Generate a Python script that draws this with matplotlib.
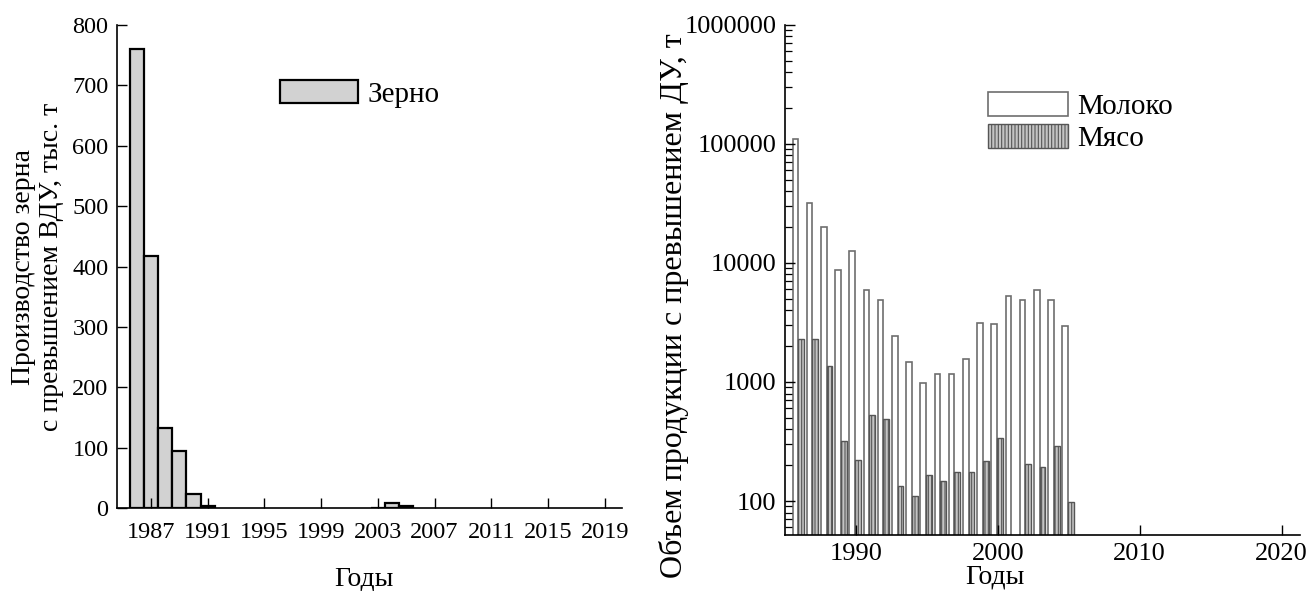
import matplotlib
matplotlib.use("Agg")
import matplotlib.pyplot as plt
import numpy as np
from matplotlib.ticker import FixedLocator, LogLocator, NullFormatter

plt.rcParams['font.family'] = ['Liberation Serif', 'DejaVu Serif']
plt.rcParams['hatch.linewidth'] = 0.8

# Grain: production above the permissible level, thousand tonnes
grain_years = [1986, 1987, 1988, 1989, 1990, 1991, 2003, 2004, 2005]
grain_values = [760, 418, 133, 94, 24, 4, 1, 9, 4]
grain_xticks = [1987, 1991, 1995, 1999, 2003, 2007, 2011, 2015, 2019]

# Milk and meat above the permissible level, tonnes
prod_years = list(range(1986, 2006))
milk_values = [110000, 32000, 20000, 8800, 12500, 5900, 4900, 2450, 1480, 980,
               1170, 1170, 1570, 3150, 3050, 5300, 4900, 5900, 4900, 2950]
meat_values = [2300, 2300, 1350, 320, 220, 530, 490, 135, 110, 165,
               148, 175, 175, 218, 340, 0, 205, 195, 290, 98]
prod_xticks = [1990, 2000, 2010, 2020]
prod_yticks = [100, 1000, 10000, 100000, 1000000]

fig = plt.figure(figsize=(13.08, 5.91), dpi=100)

TICK_L = 17.5
TICK_R = 19
LABEL = 20
LEG = 21

# ---- left panel: grain ----
ax1 = fig.add_axes([0.0894, 0.140, 0.386, 0.818])
ax1.bar(grain_years, grain_values, width=1.0, color='#d2d2d2',
        edgecolor='black', linewidth=1.6, label='Зерно')
ax1.set_xlim(1984.6, 2020.2)
ax1.set_ylim(0, 800)
ax1.set_xticks(grain_xticks)
ax1.set_yticks(np.arange(0, 801, 100))
ax1.spines['top'].set_visible(False)
ax1.spines['right'].set_visible(False)
for s in ('left', 'bottom'):
    ax1.spines[s].set_linewidth(1.2)
ax1.tick_params(direction='in', length=7, width=1.0, labelsize=TICK_L, pad=6)
ax1.tick_params(axis='x', pad=10)
ax1.set_xlabel('Годы', fontsize=LABEL)
ax1.xaxis.set_label_coords(0.49, -0.12)
ax1.set_ylabel('Производство зерна\nс превышением ВДУ, тыс. т', fontsize=LABEL,
               linespacing=1.15, labelpad=6)
ax1.legend(loc='upper left', bbox_to_anchor=(0.27, 0.94), frameon=False,
           fontsize=LEG, handlelength=2.7, handleheight=0.85,
           handletextpad=0.3)

# ---- right panel: milk and meat (log scale) ----
ax2 = fig.add_axes([0.600, 0.095, 0.394, 0.863])
w = 0.4
x = np.array(prod_years, dtype=float)
ax2.bar(x - w / 2 - 0.05, milk_values, width=w, color='white',
        edgecolor='#6e6e6e', linewidth=1.2, label='Молоко')
meat_plot = [v if v > 0 else np.nan for v in meat_values]
ax2.bar(x + w / 2 - 0.05, meat_plot, width=w, color='#c4c4c4',
        edgecolor='#555555', linewidth=1.0, hatch='|||||', label='Мясо')
ax2.set_yscale('log')
ax2.set_ylim(52, 1000000)
ax2.set_xlim(1985.0, 2021.3)
ax2.set_xticks(prod_xticks)
ax2.yaxis.set_major_locator(FixedLocator(prod_yticks))
ax2.set_yticklabels([str(v) for v in prod_yticks])
ax2.yaxis.set_minor_locator(LogLocator(base=10, subs=np.arange(2, 10)))
ax2.yaxis.set_minor_formatter(NullFormatter())
ax2.spines['top'].set_visible(False)
ax2.spines['right'].set_visible(False)
for s in ('left', 'bottom'):
    ax2.spines[s].set_linewidth(1.2)
ax2.tick_params(which='major', direction='in', length=7, width=1.0,
                labelsize=TICK_R, pad=6)
ax2.tick_params(which='minor', direction='in', length=5, width=0.9)
ax2.set_xlabel('Годы', fontsize=LABEL)
ax2.xaxis.set_label_coords(0.408, -0.058)
ax2.set_ylabel('Объем продукции с превышением ДУ, т', fontsize=23)
ax2.yaxis.set_label_coords(-0.186, 0.45)
ax2.legend(loc='upper left', bbox_to_anchor=(0.343, 0.92), frameon=False,
           fontsize=LEG, handlelength=2.75, handleheight=0.9,
           handletextpad=0.3, labelspacing=0.12)

fig.savefig('out.png', dpi=100)
